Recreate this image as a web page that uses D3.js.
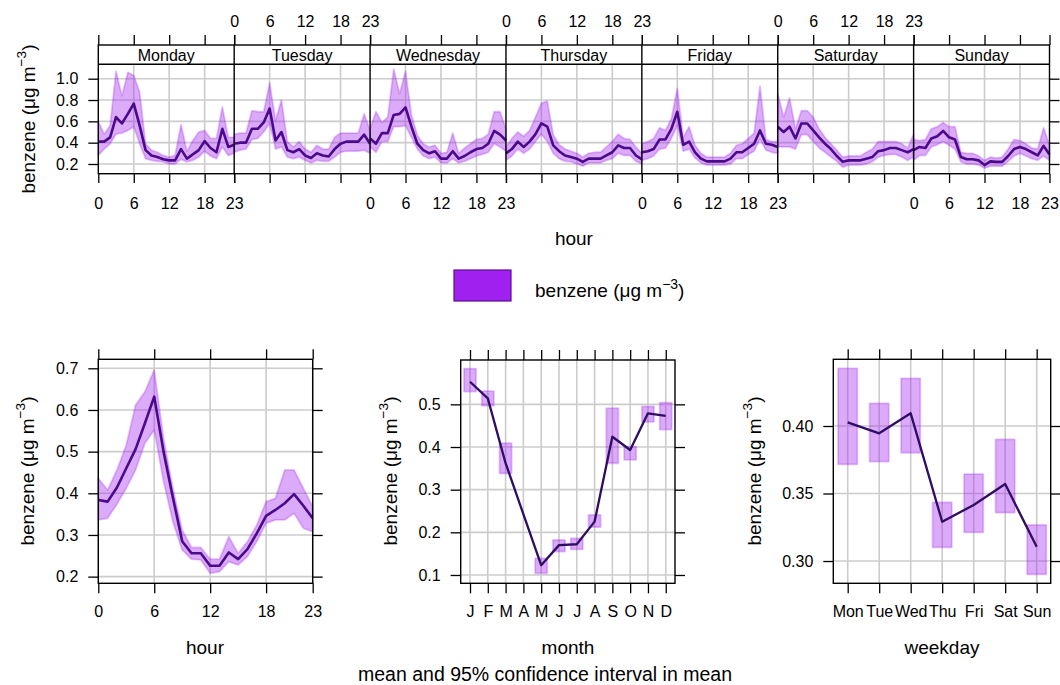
<!DOCTYPE html>
<html>
<head>
<meta charset="utf-8">
<script src="https://cdn.jsdelivr.net/npm/d3@7"></script>
<style>
  html, body { margin: 0; padding: 0; background: #ffffff; }
  svg { display: block; }
</style>
</head>
<body>
<svg id="chart" width="1060" height="685"></svg>
<script>
// ---------------- DATA ----------------
const dayNames = ["Monday", "Tuesday", "Wednesday", "Thursday", "Friday", "Saturday", "Sunday"];
const hourTicks = [0, 6, 12, 18, 23];
const topYTicks = [0.2, 0.4, 0.6, 0.8, 1.0];

const mondayMean  = [0.41,0.41,0.45,0.64,0.58,0.67,0.766,0.56,0.33,0.28,0.265,0.244,0.234,0.234,0.34,0.25,0.29,0.33,0.415,0.35,0.31,0.53,0.36,0.38];
const mondayLower = [0.28,0.34,0.39,0.48,0.49,0.515,0.55,0.39,0.25,0.234,0.225,0.22,0.20,0.20,0.244,0.22,0.234,0.265,0.32,0.275,0.25,0.36,0.28,0.30];
const mondayUpper = [0.60,0.48,0.56,1.07,0.84,1.06,1.03,0.875,0.39,0.33,0.31,0.28,0.265,0.28,0.57,0.32,0.42,0.50,0.515,0.44,0.44,0.735,0.45,0.45];

const tuesdayMean  = [0.39,0.40,0.40,0.53,0.53,0.59,0.72,0.42,0.50,0.33,0.31,0.34,0.28,0.256,0.30,0.28,0.27,0.34,0.39,0.41,0.41,0.41,0.475,0.39];
const tuesdayLower = [0.31,0.33,0.34,0.43,0.44,0.50,0.58,0.34,0.36,0.265,0.25,0.265,0.234,0.21,0.234,0.225,0.225,0.265,0.31,0.32,0.32,0.32,0.33,0.30];
const tuesdayUpper = [0.48,0.49,0.49,0.70,0.69,0.69,0.96,0.61,0.80,0.41,0.36,0.41,0.34,0.31,0.375,0.34,0.34,0.45,0.49,0.49,0.49,0.49,0.67,0.515];

const wednesdayMean  = [0.44,0.39,0.49,0.49,0.66,0.67,0.73,0.55,0.39,0.33,0.30,0.32,0.25,0.25,0.32,0.25,0.275,0.31,0.34,0.35,0.39,0.51,0.475,0.42];
const wednesdayLower = [0.36,0.31,0.41,0.41,0.55,0.55,0.56,0.45,0.34,0.275,0.25,0.265,0.21,0.21,0.25,0.21,0.225,0.25,0.275,0.29,0.31,0.39,0.36,0.32];
const wednesdayUpper = [0.53,0.69,0.59,0.64,1.09,0.86,1.07,0.66,0.47,0.39,0.36,0.375,0.30,0.31,0.49,0.30,0.35,0.39,0.43,0.44,0.48,0.69,0.69,0.53];

const thursdayMean  = [0.30,0.34,0.41,0.36,0.41,0.48,0.58,0.55,0.375,0.32,0.28,0.265,0.25,0.22,0.25,0.25,0.25,0.28,0.31,0.375,0.35,0.35,0.28,0.244];
const thursdayLower = [0.234,0.275,0.34,0.30,0.34,0.41,0.48,0.41,0.30,0.25,0.225,0.22,0.20,0.18,0.21,0.21,0.21,0.234,0.25,0.30,0.28,0.28,0.225,0.20];
const thursdayUpper = [0.36,0.44,0.50,0.46,0.515,0.64,0.77,0.79,0.475,0.38,0.34,0.32,0.30,0.265,0.30,0.31,0.31,0.36,0.41,0.48,0.44,0.43,0.36,0.30];

const fridayMean  = [0.31,0.32,0.34,0.43,0.43,0.53,0.69,0.38,0.41,0.31,0.25,0.225,0.225,0.225,0.225,0.25,0.31,0.31,0.35,0.39,0.515,0.39,0.38,0.36];
const fridayLower = [0.234,0.25,0.275,0.34,0.35,0.44,0.56,0.32,0.34,0.256,0.21,0.19,0.19,0.19,0.19,0.20,0.25,0.25,0.29,0.32,0.43,0.33,0.31,0.30];
const fridayUpper = [0.39,0.41,0.44,0.54,0.515,0.625,0.91,0.45,0.55,0.375,0.30,0.265,0.265,0.265,0.265,0.30,0.375,0.39,0.44,0.49,0.93,0.43,0.41,0.41];

const saturdayMean  = [0.55,0.50,0.55,0.44,0.58,0.58,0.515,0.45,0.39,0.34,0.275,0.22,0.234,0.234,0.234,0.25,0.265,0.32,0.33,0.35,0.35,0.33,0.31,0.34];
const saturdayLower = [0.36,0.36,0.36,0.34,0.475,0.475,0.41,0.35,0.31,0.265,0.225,0.17,0.19,0.19,0.19,0.20,0.22,0.265,0.28,0.29,0.29,0.265,0.234,0.265];
const saturdayUpper = [0.86,0.64,0.82,0.53,0.70,0.70,0.64,0.53,0.45,0.39,0.33,0.265,0.275,0.275,0.275,0.31,0.34,0.41,0.41,0.41,0.41,0.39,0.35,0.48];

const sundayMean  = [0.33,0.36,0.35,0.44,0.46,0.51,0.45,0.43,0.265,0.244,0.244,0.234,0.19,0.225,0.22,0.22,0.275,0.34,0.36,0.34,0.31,0.28,0.37,0.29];
const sundayLower = [0.234,0.28,0.28,0.36,0.38,0.41,0.375,0.34,0.22,0.20,0.20,0.19,0.16,0.18,0.18,0.18,0.225,0.275,0.30,0.275,0.25,0.234,0.275,0.234];
const sundayUpper = [0.43,0.42,0.43,0.53,0.55,0.59,0.55,0.55,0.31,0.30,0.30,0.275,0.234,0.265,0.256,0.265,0.34,0.43,0.42,0.39,0.35,0.34,0.54,0.375];

const hourYTicks = [0.2, 0.3, 0.4, 0.5, 0.6, 0.7];
const hourMean  = [0.384,0.380,0.414,0.460,0.506,0.568,0.632,0.500,0.390,0.285,0.256,0.256,0.226,0.226,0.258,0.242,0.266,0.304,0.346,0.360,0.376,0.398,0.370,0.340];
const hourLower = [0.336,0.340,0.374,0.412,0.456,0.520,0.552,0.428,0.332,0.264,0.242,0.240,0.208,0.212,0.236,0.228,0.248,0.284,0.328,0.336,0.336,0.352,0.316,0.308];
const hourUpper = [0.436,0.408,0.456,0.516,0.612,0.644,0.696,0.532,0.412,0.312,0.270,0.270,0.242,0.242,0.296,0.256,0.284,0.324,0.380,0.388,0.456,0.456,0.412,0.368];

const monthLabels = ["J","F","M","A","M","J","J","A","S","O","N","D"];
const monthYTicks = [0.1, 0.2, 0.3, 0.4, 0.5];
const monthMean  = [0.553,0.514,0.362,null,0.123,0.170,0.172,0.225,0.424,0.393,0.479,0.473];
const monthLower = [0.530,0.497,0.338,null,0.104,0.155,0.160,0.212,0.362,0.370,0.459,0.441];
const monthUpper = [0.584,0.531,0.409,null,0.139,0.182,0.186,0.241,0.491,0.401,0.495,0.504];

const weekdayLabels = ["Mon","Tue","Wed","Thu","Fri","Sat","Sun"];
const weekdayYTicks = [0.30, 0.35, 0.40];
const weekdayMean  = [0.4027,0.3946,0.4094,0.3291,0.3415,0.3570,0.3106];
const weekdayLower = [0.3716,0.3736,0.3802,0.3101,0.3212,0.3358,0.2901];
const weekdayUpper = [0.4427,0.4168,0.4353,0.3435,0.3644,0.3901,0.3267];

// ---------------- STYLE ----------------
const FONT = "'Liberation Sans', Arial, Helvetica, sans-serif";
const BAND = "#a020f0";
const LINE = "#4b0a8c";
const LINE2 = "#2e0d62";
const GRID = "#cccccc";
const TICK_FS = 16;
const TITLE_FS = 19;

const svg = d3.select("#chart");
svg.append("rect").attr("width", 1060).attr("height", 685).attr("fill", "#fff");

function styleAxis(g, fs) {
  g.attr("font-family", FONT).attr("font-size", fs);
  g.select(".domain").remove();
  g.selectAll(".tick line").attr("stroke", "#000").attr("stroke-width", 1.3);
  g.selectAll(".tick text").attr("fill", "#000");
  return g;
}

function yTitle(x, y, size) {
  const t = svg.append("text")
    .attr("transform", `translate(${x},${y}) rotate(-90)`)
    .attr("text-anchor", "middle")
    .attr("font-family", FONT).attr("font-size", size).attr("fill", "#000");
  t.append("tspan").text("benzene (\u03bcg m");
  t.append("tspan").attr("dy", -size * 0.45).attr("font-size", size * 0.72).text("\u22123");
  t.append("tspan").attr("dy", size * 0.45).text(")");
}

function bandStyle(sel) {
  return sel.attr("fill", BAND).attr("fill-opacity", 0.38)
    .attr("stroke", BAND).attr("stroke-opacity", 0.28).attr("stroke-width", 1.8)
    .attr("stroke-linejoin", "round");
}

// ---------------- TOP PANEL (hour x weekday) ----------------
const T = { left: 98.3, right: 1049.5, top: 64.3, bottom: 173.7, stripTop: 45 };
const dayW = (T.right - T.left) / 7;
const yTop = d3.scaleLinear().domain([0.109, 1.135]).range([T.bottom, T.top]);
const dayMeans  = [mondayMean, tuesdayMean, wednesdayMean, thursdayMean, fridayMean, saturdayMean, sundayMean];
const dayLowers = [mondayLower, tuesdayLower, wednesdayLower, thursdayLower, fridayLower, saturdayLower, sundayLower];
const dayUppers = [mondayUpper, tuesdayUpper, wednesdayUpper, thursdayUpper, fridayUpper, saturdayUpper, sundayUpper];

const topG = svg.append("g");
const gridTop = topG.append("g");
gridTop.selectAll("line.h").data(topYTicks).join("line")
  .attr("x1", T.left).attr("x2", T.right)
  .attr("y1", d => yTop(d)).attr("y2", d => yTop(d))
  .attr("stroke", GRID).attr("stroke-width", 1.6);

dayNames.forEach((name, i) => {
  const xs = d3.scaleLinear().domain([0, 23]).range([T.left + i * dayW, T.left + (i + 1) * dayW]);
  gridTop.selectAll(null).data([6, 12, 18]).join("line")
    .attr("x1", d => xs(d)).attr("x2", d => xs(d))
    .attr("y1", T.top).attr("y2", T.bottom)
    .attr("stroke", GRID).attr("stroke-width", 1.6);

  const rows = d3.range(24).map(h => ({ h, m: dayMeans[i][h], lo: dayLowers[i][h], hi: dayUppers[i][h] }));
  const area = d3.area().x(d => xs(d.h)).y0(d => yTop(d.lo)).y1(d => yTop(d.hi));
  const line = d3.line().x(d => xs(d.h)).y(d => yTop(d.m));
  bandStyle(topG.append("path").datum(rows).attr("d", area));
  topG.append("path").datum(rows).attr("d", line)
    .attr("fill", "none").attr("stroke", LINE).attr("stroke-width", 2.6).attr("stroke-linejoin", "round");

  const gb = topG.append("g").attr("transform", `translate(0,${T.bottom})`)
    .call(d3.axisBottom(xs).tickValues(hourTicks).tickSize(9.3).tickPadding(14.5).tickSizeOuter(0)
      .tickFormat(i % 2 === 0 ? d3.format("d") : () => ""));
  styleAxis(gb, TICK_FS);
  const gt = topG.append("g").attr("transform", `translate(0,${T.stripTop})`)
    .call(d3.axisTop(xs).tickValues(hourTicks).tickSize(10).tickPadding(8).tickSizeOuter(0)
      .tickFormat(i % 2 === 1 ? d3.format("d") : () => ""));
  styleAxis(gt, TICK_FS);

  topG.append("text").attr("x", T.left + (i + 0.5) * dayW).attr("y", 61)
    .attr("text-anchor", "middle").attr("font-family", FONT).attr("font-size", 16)
    .attr("fill", "#000").text(name);
});

topG.append("rect").attr("x", T.left).attr("y", T.stripTop)
  .attr("width", T.right - T.left).attr("height", T.bottom - T.stripTop)
  .attr("fill", "none").attr("stroke", "#000").attr("stroke-width", 1.4);
topG.append("line").attr("x1", T.left).attr("x2", T.right).attr("y1", T.top).attr("y2", T.top)
  .attr("stroke", "#000").attr("stroke-width", 1.4);
topG.selectAll("line.sep").data(d3.range(1, 7)).join("line")
  .attr("x1", d => T.left + d * dayW).attr("x2", d => T.left + d * dayW)
  .attr("y1", T.stripTop).attr("y2", T.bottom)
  .attr("stroke", "#000").attr("stroke-width", 1.4);

styleAxis(topG.append("g").attr("transform", `translate(${T.left},0)`)
  .call(d3.axisLeft(yTop).tickValues(topYTicks).tickSize(10).tickPadding(10).tickSizeOuter(0)
    .tickFormat(d3.format(".1f"))), TICK_FS);
styleAxis(topG.append("g").attr("transform", `translate(${T.right},0)`)
  .call(d3.axisRight(yTop).tickValues(topYTicks).tickSize(10).tickSizeOuter(0).tickFormat(() => "")), TICK_FS);

yTitle(35, 119, TITLE_FS);
svg.append("text").attr("x", (T.left + T.right) / 2).attr("y", 245)
  .attr("text-anchor", "middle").attr("font-family", FONT).attr("font-size", TITLE_FS).attr("fill", "#000").text("hour");

// ---------------- LEGEND ----------------
svg.append("rect").attr("x", 454).attr("y", 270).attr("width", 57).attr("height", 31)
  .attr("fill", BAND).attr("stroke", "#5a1090").attr("stroke-width", 1.2);
const lg = svg.append("text").attr("x", 535).attr("y", 297)
  .attr("font-family", FONT).attr("font-size", 19).attr("fill", "#000");
lg.append("tspan").text("benzene (\u03bcg m");
lg.append("tspan").attr("dy", -8.5).attr("font-size", 14).text("\u22123");
lg.append("tspan").attr("dy", 8.5).text(")");

// ---------------- BOTTOM PANELS ----------------
function panelFrame(P, xScale, yScale, xTicks, xFmt, yTicks, yFmt) {
  const g = svg.append("g");
  const grid = g.append("g");
  grid.selectAll(null).data(yTicks).join("line")
    .attr("x1", P.left).attr("x2", P.right)
    .attr("y1", d => yScale(d)).attr("y2", d => yScale(d))
    .attr("stroke", GRID).attr("stroke-width", 1.6);
  grid.selectAll(null).data(xTicks).join("line")
    .attr("x1", d => xScale(d)).attr("x2", d => xScale(d))
    .attr("y1", P.top).attr("y2", P.bottom)
    .attr("stroke", GRID).attr("stroke-width", 1.6);
  const marks = g.append("g");
  const deco = g.append("g");
  deco.append("rect").attr("x", P.left).attr("y", P.top)
    .attr("width", P.right - P.left).attr("height", P.bottom - P.top)
    .attr("fill", "none").attr("stroke", "#000").attr("stroke-width", 1.4);
  styleAxis(deco.append("g").attr("transform", `translate(0,${P.bottom})`)
    .call(d3.axisBottom(xScale).tickValues(xTicks).tickSize(10).tickPadding(12.5).tickSizeOuter(0).tickFormat(xFmt)), TICK_FS);
  styleAxis(deco.append("g").attr("transform", `translate(0,${P.top})`)
    .call(d3.axisTop(xScale).tickValues(xTicks).tickSize(10).tickSizeOuter(0).tickFormat(() => "")), TICK_FS);
  styleAxis(deco.append("g").attr("transform", `translate(${P.left},0)`)
    .call(d3.axisLeft(yScale).tickValues(yTicks).tickSize(10).tickPadding(10).tickSizeOuter(0).tickFormat(yFmt)), TICK_FS);
  styleAxis(deco.append("g").attr("transform", `translate(${P.right},0)`)
    .call(d3.axisRight(yScale).tickValues(yTicks).tickSize(10).tickSizeOuter(0).tickFormat(() => "")), TICK_FS);
  return marks;
}

function xTitle(x, text) {
  svg.append("text").attr("x", x).attr("y", 654)
    .attr("text-anchor", "middle").attr("font-family", FONT).attr("font-size", TITLE_FS).attr("fill", "#000").text(text);
}

// Panel 1: hour
{
  const P = { left: 98.3, right: 312.7, top: 359.3, bottom: 583.3 };
  const x = d3.scaleLinear().domain([0, 23]).range([P.left, P.right]);
  const y = d3.scaleLinear().domain([0.184, 0.7216]).range([P.bottom, P.top]);
  const marks = panelFrame(P, x, y, hourTicks, d3.format("d"), hourYTicks, d3.format(".1f"));
  const rows = d3.range(24).map(h => ({ h, m: hourMean[h], lo: hourLower[h], hi: hourUpper[h] }));
  bandStyle(marks.append("path").datum(rows)
    .attr("d", d3.area().x(d => x(d.h)).y0(d => y(d.lo)).y1(d => y(d.hi))));
  marks.append("path").datum(rows)
    .attr("d", d3.line().x(d => x(d.h)).y(d => y(d.m)))
    .attr("fill", "none").attr("stroke", LINE).attr("stroke-width", 2.6).attr("stroke-linejoin", "round");
  yTitle(34, 471, TITLE_FS);
  xTitle(205, "hour");
}

// Panel 2: month
{
  const P = { left: 460.7, right: 675, top: 360, bottom: 583.3 };
  const x = d3.scaleLinear().domain([0.477, 12.52]).range([P.left, P.right]);
  const y = d3.scaleLinear().domain([0.0805, 0.604]).range([P.bottom, P.top]);
  const mTicks = d3.range(1, 13);
  const marks = panelFrame(P, x, y, mTicks, d => monthLabels[d - 1], monthYTicks, d3.format(".1f"));
  const rows = monthLabels.map((lab, i) => ({ i: i + 1, m: monthMean[i], lo: monthLower[i], hi: monthUpper[i] }))
    .filter(d => d.m !== null);
  const hw = 0.34;
  bandStyle(marks.selectAll(null).data(rows).join("rect")
    .attr("x", d => x(d.i - hw)).attr("width", d => x(d.i + hw) - x(d.i - hw))
    .attr("y", d => y(d.hi)).attr("height", d => y(d.lo) - y(d.hi)));
  marks.append("path").datum(rows)
    .attr("d", d3.line().x(d => x(d.i)).y(d => y(d.m)))
    .attr("fill", "none").attr("stroke", LINE2).attr("stroke-width", 2.3).attr("stroke-linejoin", "round");
  yTitle(397, 471, TITLE_FS);
  xTitle(568, "month");
}

// Panel 3: weekday
{
  const P = { left: 833.3, right: 1050.7, top: 359.3, bottom: 583.3 };
  const x = d3.scaleLinear().domain([0.543, 7.445]).range([P.left, P.right]);
  const y = d3.scaleLinear().domain([0.2835, 0.4494]).range([P.bottom, P.top]);
  const wTicks = d3.range(1, 8);
  const marks = panelFrame(P, x, y, wTicks, d => weekdayLabels[d - 1], weekdayYTicks, d3.format(".2f"));
  const rows = weekdayLabels.map((lab, i) => ({ i: i + 1, m: weekdayMean[i], lo: weekdayLower[i], hi: weekdayUpper[i] }));
  const hw = 0.305;
  bandStyle(marks.selectAll(null).data(rows).join("rect")
    .attr("x", d => x(d.i - hw)).attr("width", d => x(d.i + hw) - x(d.i - hw))
    .attr("y", d => y(d.hi)).attr("height", d => y(d.lo) - y(d.hi)));
  marks.append("path").datum(rows)
    .attr("d", d3.line().x(d => x(d.i)).y(d => y(d.m)))
    .attr("fill", "none").attr("stroke", LINE2).attr("stroke-width", 2.3).attr("stroke-linejoin", "round");
  yTitle(761, 471, TITLE_FS);
  xTitle(942, "weekday");
}

svg.append("text").attr("x", 545).attr("y", 681)
  .attr("text-anchor", "middle").attr("font-family", FONT).attr("font-size", 19.5).attr("fill", "#000")
  .text("mean and 95% confidence interval in mean");
</script>
</body>
</html>
